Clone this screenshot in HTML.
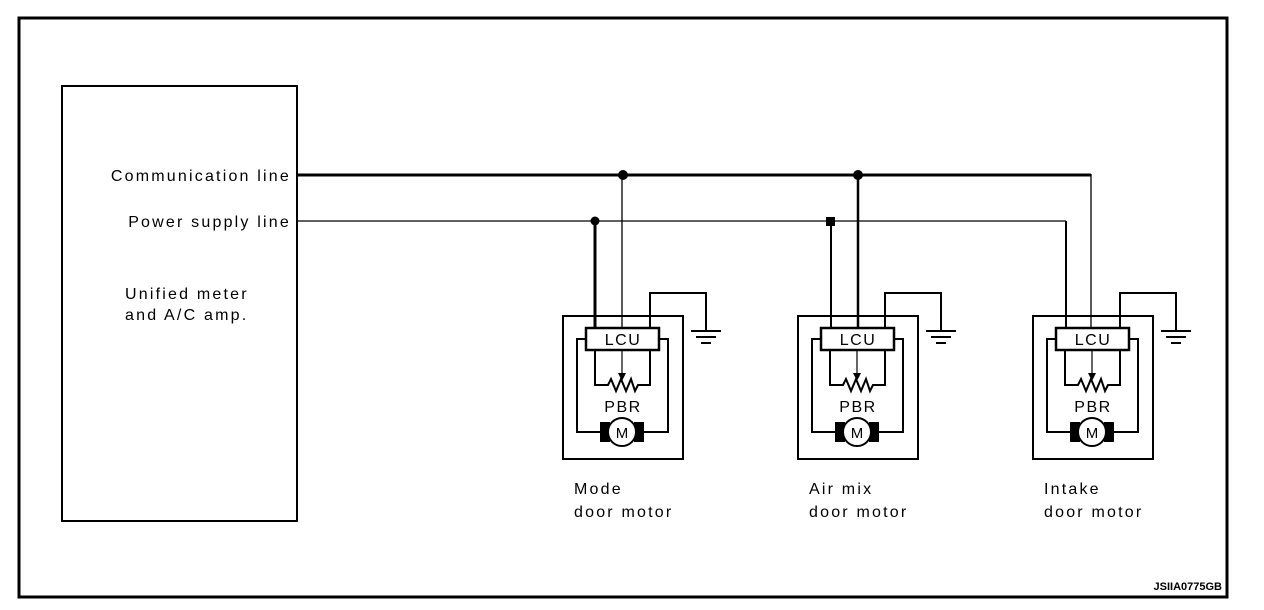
<!DOCTYPE html>
<html><head><meta charset="utf-8"><style>
html,body{margin:0;padding:0;background:#fff;}
svg{display:block;}
text{font-family:"Liberation Sans",sans-serif;fill:#000;}
.w{letter-spacing:2.2px;}
</style></head><body>
<svg width="1264" height="610" viewBox="0 0 1264 610" xmlns="http://www.w3.org/2000/svg">
<defs>
<g id="blk" fill="none" stroke="#000">
  <rect x="563" y="316" width="120" height="143" stroke-width="2"/>
  <polyline points="650,328 650,293 706,293 706,331" stroke-width="2"/>
  <line x1="691" y1="331" x2="721" y2="331" stroke-width="2"/>
  <line x1="696" y1="337" x2="716" y2="337" stroke-width="2"/>
  <line x1="701" y1="343" x2="711" y2="343" stroke-width="2"/>
  <rect x="586" y="328" width="73" height="22" stroke-width="2.5" fill="#fff"/>
  <polyline points="586,339 577,339 577,432 600,432" stroke-width="2"/>
  <polyline points="659,339 668,339 668,432 644,432" stroke-width="2"/>
  <polyline points="595,350 595,385 608,385 611,379 616,391 621,379 626,391 631,379 635,391 638,385 650,385 650,350" stroke-width="2"/>
  <line x1="622" y1="350" x2="622" y2="375" stroke-width="1.2"/>
  <polygon points="618,373 626,373 622,381" fill="#000" stroke="none"/>
  <rect x="600" y="422" width="10" height="20" fill="#000" stroke="none"/>
  <rect x="634" y="422" width="10" height="20" fill="#000" stroke="none"/>
  <circle cx="622" cy="432" r="14" stroke-width="2" fill="#fff"/>
</g>
</defs>
<rect x="19" y="18" width="1208" height="579" fill="none" stroke="#000" stroke-width="3"/>
<rect x="62" y="86" width="235" height="435" fill="none" stroke="#000" stroke-width="2"/>
<text class="w" x="291" y="181" font-size="16" text-anchor="end">Communication line</text>
<text class="w" x="291" y="227" font-size="16" text-anchor="end">Power supply line</text>
<text class="w" x="125" y="299" font-size="16">Unified meter</text>
<text class="w" x="125" y="320" font-size="16">and A/C amp.</text>
<line x1="297" y1="175" x2="1091" y2="175" stroke="#000" stroke-width="3"/>
<line x1="1091" y1="174" x2="1091" y2="328" stroke="#000" stroke-width="1.3"/>
<line x1="297" y1="221" x2="1066" y2="221" stroke="#000" stroke-width="1.3"/>
<line x1="1066" y1="221" x2="1066" y2="328" stroke="#000" stroke-width="2"/>
<line x1="595" y1="221" x2="595" y2="328" stroke="#000" stroke-width="3"/>
<circle cx="595" cy="221" r="4.5"/>
<line x1="622" y1="175" x2="622" y2="350" stroke="#000" stroke-width="1.3"/>
<circle cx="623" cy="175" r="5"/>
<line x1="831" y1="221" x2="831" y2="328" stroke="#000" stroke-width="2"/>
<rect x="826" y="217" width="9" height="9"/>
<line x1="858" y1="175" x2="858" y2="350" stroke="#000" stroke-width="2.5"/>
<circle cx="858" cy="175" r="5"/>
<use href="#blk"/>
<use href="#blk" transform="translate(235,0)"/>
<use href="#blk" transform="translate(470,0)"/>
<g font-size="16" text-anchor="middle" style="letter-spacing:1.5px">
<text x="623" y="345">LCU</text><text x="858" y="345">LCU</text><text x="1093" y="345">LCU</text>
<text x="623" y="412">PBR</text><text x="858" y="412">PBR</text><text x="1093" y="412">PBR</text>
<text x="622" y="438" font-size="15" style="letter-spacing:0">M</text><text x="857" y="438" font-size="15" style="letter-spacing:0">M</text><text x="1092" y="438" font-size="15" style="letter-spacing:0">M</text>
</g>
<g font-size="16" class="w">
<text x="574" y="494">Mode</text><text x="574" y="517">door motor</text>
<text x="809" y="494">Air mix</text><text x="809" y="517">door motor</text>
<text x="1044" y="494">Intake</text><text x="1044" y="517">door motor</text>
</g>
<text x="1222" y="590" font-size="11" font-weight="bold" text-anchor="end">JSIIA0775GB</text>
</svg>
</body></html>
